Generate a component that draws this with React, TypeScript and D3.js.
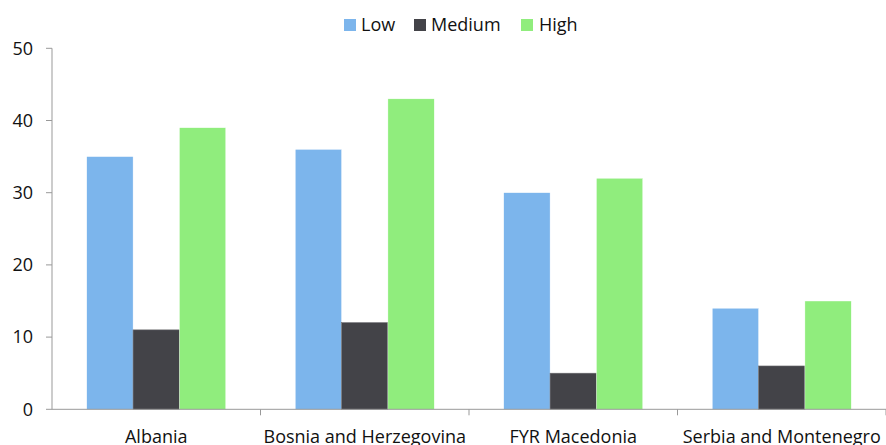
import React from "react";
import * as d3 from "d3";

const categories = ["Albania", "Bosnia and Herzegovina", "FYR Macedonia", "Serbia and Montenegro"];
const seriesNames = ["Low", "Medium", "High"];
const lowValues = [35, 36, 30, 14];
const mediumValues = [11, 12, 5, 6];
const highValues = [39, 43, 32, 15];
const yTicks = [0, 10, 20, 30, 40, 50];
const colors = ["#7cb5ec", "#434348", "#90ed7d"];

const W = 886;
const H = 445;
const left = 52;
const right = 886;
const top = 48.3;
const bottom = 409.3;
const FONT = "'Open Sans', sans-serif";

export default function App() {
  const seriesValues = [lowValues, mediumValues, highValues];
  const x0 = d3.scaleBand<string>().domain(categories).range([left, right]).padding(0);
  const x1 = d3
    .scaleBand<string>()
    .domain(seriesNames)
    .range([0, x0.bandwidth()])
    .paddingInner(0)
    .paddingOuter(0.75);
  const y = d3.scaleLinear().domain([0, 50]).range([bottom, top]);

  const legendItems = [
    { name: "Low", sx: 344, tx: 361 },
    { name: "Medium", sx: 414, tx: 431 },
    { name: "High", sx: 521, tx: 539 },
  ];

  return (
    <svg
      width={W}
      height={H}
      style={{ position: "absolute", left: 0, top: 0, background: "#fff" }}
      fontFamily={FONT}
    >
      {categories.map((c, ci) =>
        seriesNames.map((s, si) => {
          const v = seriesValues[si][ci];
          return (
            <rect
              key={c + s}
              x={(x0(c) as number) + (x1(s) as number)}
              y={y(v)}
              width={x1.bandwidth()}
              height={y(0) - y(v)}
              fill={colors[si]}
              stroke={si === 1 ? "#6a6a6e" : "#ffffff"}
              strokeWidth={si === 1 ? 0.6 : 0.4}
            />
          );
        })
      )}
      {/* y axis */}
      <line x1={left} x2={left} y1={top} y2={bottom} stroke="#999" strokeWidth={1} />
      {yTicks.map((t) => (
        <g key={t}>
          <line x1={left - 6} x2={left} y1={y(t)} y2={y(t)} stroke="#999" strokeWidth={1} />
          <text x={33} y={y(t)} dy="0.35em" textAnchor="end" fontSize={18} fill="#111">
            {t}
          </text>
        </g>
      ))}
      {/* x axis */}
      <line x1={left} x2={right} y1={bottom} y2={bottom} stroke="#999" strokeWidth={1} />
      {categories.map((c, i) => (
        <line
          key={"t" + c}
          x1={(x0(c) as number) + x0.bandwidth()}
          x2={(x0(c) as number) + x0.bandwidth()}
          y1={bottom}
          y2={bottom + 6}
          stroke="#999"
          strokeWidth={1}
        />
      ))}
      {categories.map((c) => (
        <text
          key={"l" + c}
          x={(x0(c) as number) + x0.bandwidth() / 2}
          y={443}
          textAnchor="middle"
          fontSize={18}
          fill="#111"
        >
          {c}
        </text>
      ))}
      {/* legend */}
      {legendItems.map((it, i) => (
        <g key={it.name}>
          <rect x={it.sx} y={19} width={12} height={12} fill={colors[i]} />
          <text x={it.tx} y={31} fontSize={18} fill="#111">
            {it.name}
          </text>
        </g>
      ))}
    </svg>
  );
}
